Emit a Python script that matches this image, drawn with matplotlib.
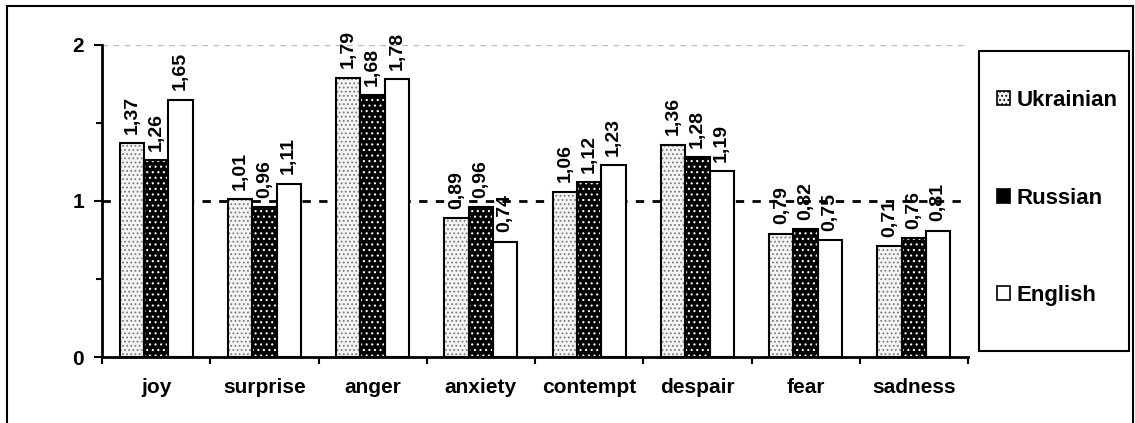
import numpy as np
import matplotlib.pyplot as plt
from matplotlib.patches import Rectangle, Patch
from matplotlib.ticker import FixedLocator

plt.rcParams['font.family'] = ['Liberation Sans', 'DejaVu Sans']
plt.rcParams['font.weight'] = 'bold'
plt.rcParams['hatch.linewidth'] = 0.8

categories = ["joy", "surprise", "anger", "anxiety", "contempt", "despair", "fear", "sadness"]
series = ["Ukrainian", "Russian", "English"]
ukrainian = [1.37, 1.01, 1.79, 0.89, 1.06, 1.36, 0.79, 0.71]
russian = [1.26, 0.96, 1.68, 0.96, 1.12, 1.28, 0.82, 0.76]
english = [1.65, 1.11, 1.78, 0.74, 1.23, 1.19, 0.75, 0.81]

# face, hatch colour, hatch
styles = [("#f4f4f4", "#7a7a7a", "...."),
          ("black", "white", "..."),
          ("white", "white", None)]

fig = plt.figure(figsize=(11.35, 4.23), dpi=100)
ax = fig.add_axes([102/1135, 66/423, 866/1135, 312/423])

x = np.arange(len(categories))
w = 0.225
for i, vals in enumerate([ukrainian, russian, english]):
    pos = x + (i - 1) * w
    face, hc, hatch = styles[i]
    ax.bar(pos, vals, w, color=face, linewidth=0, zorder=2)
    if hatch:
        ax.bar(pos, vals, w, color="none", edgecolor=hc, hatch=hatch, linewidth=0, zorder=3)
    ax.bar(pos, vals, w, color="none", edgecolor="black", linewidth=1.5, zorder=4)
    for p, v in zip(pos, vals):
        ax.text(p, v + 0.06, f"{v:.2f}".replace(".", ","), rotation=90,
                ha="center", va="bottom", fontsize=14, fontweight="bold")

ax.axhline(2, color="#bbbbbb", linestyle=(0, (4, 4)), linewidth=1, zorder=1)
ax.axhline(1, color="black", linestyle=(0, (3, 3)), linewidth=2, zorder=1)

ax.set_xlim(-0.5, 7.5)
ax.set_ylim(0, 2)
ax.set_yticks([0, 1, 2])
ax.yaxis.set_minor_locator(FixedLocator([0.5, 1.5]))
ax.set_xticks(x)
ax.set_xticklabels(categories)
ax.xaxis.set_minor_locator(FixedLocator(np.arange(-0.5, 8, 1)))
ax.tick_params(axis="x", which="major", length=0, pad=15, labelsize=15)
ax.tick_params(axis="x", which="minor", length=5, width=1.5, direction="out")
ax.tick_params(axis="y", which="major", length=6, width=1.5, pad=7, labelsize=15)
ax.tick_params(axis="y", which="minor", length=4, width=1.5)
for s in ["top", "right"]:
    ax.spines[s].set_visible(False)
for s in ["left", "bottom"]:
    ax.spines[s].set_linewidth(2)

# legend box
fig.patches.append(Rectangle((979/1135, (423-351)/423), 150/1135, 300/423,
                             transform=fig.transFigure, fill=False,
                             edgecolor="black", linewidth=1.5))
handles = []
for (face, hc, hatch), name in zip(styles, series):
    handles.append(Patch(facecolor=face, edgecolor="black", hatch=hatch, linewidth=1.2, label=name))
leg = fig.legend(handles=handles, loc="center left",
                 bbox_to_anchor=(977/1135, (423-198)/423), frameon=False,
                 fontsize=16, handlelength=0.6, handleheight=0.6,
                 handletextpad=0.27, labelspacing=3.45)

# outer chart border
fig.patches.append(Rectangle((7/1135, -0.02), 1126/1135, (423-6)/423 + 0.02,
                             transform=fig.transFigure, fill=False,
                             edgecolor="black", linewidth=1.5))

fig.savefig("out.png", dpi=100)
